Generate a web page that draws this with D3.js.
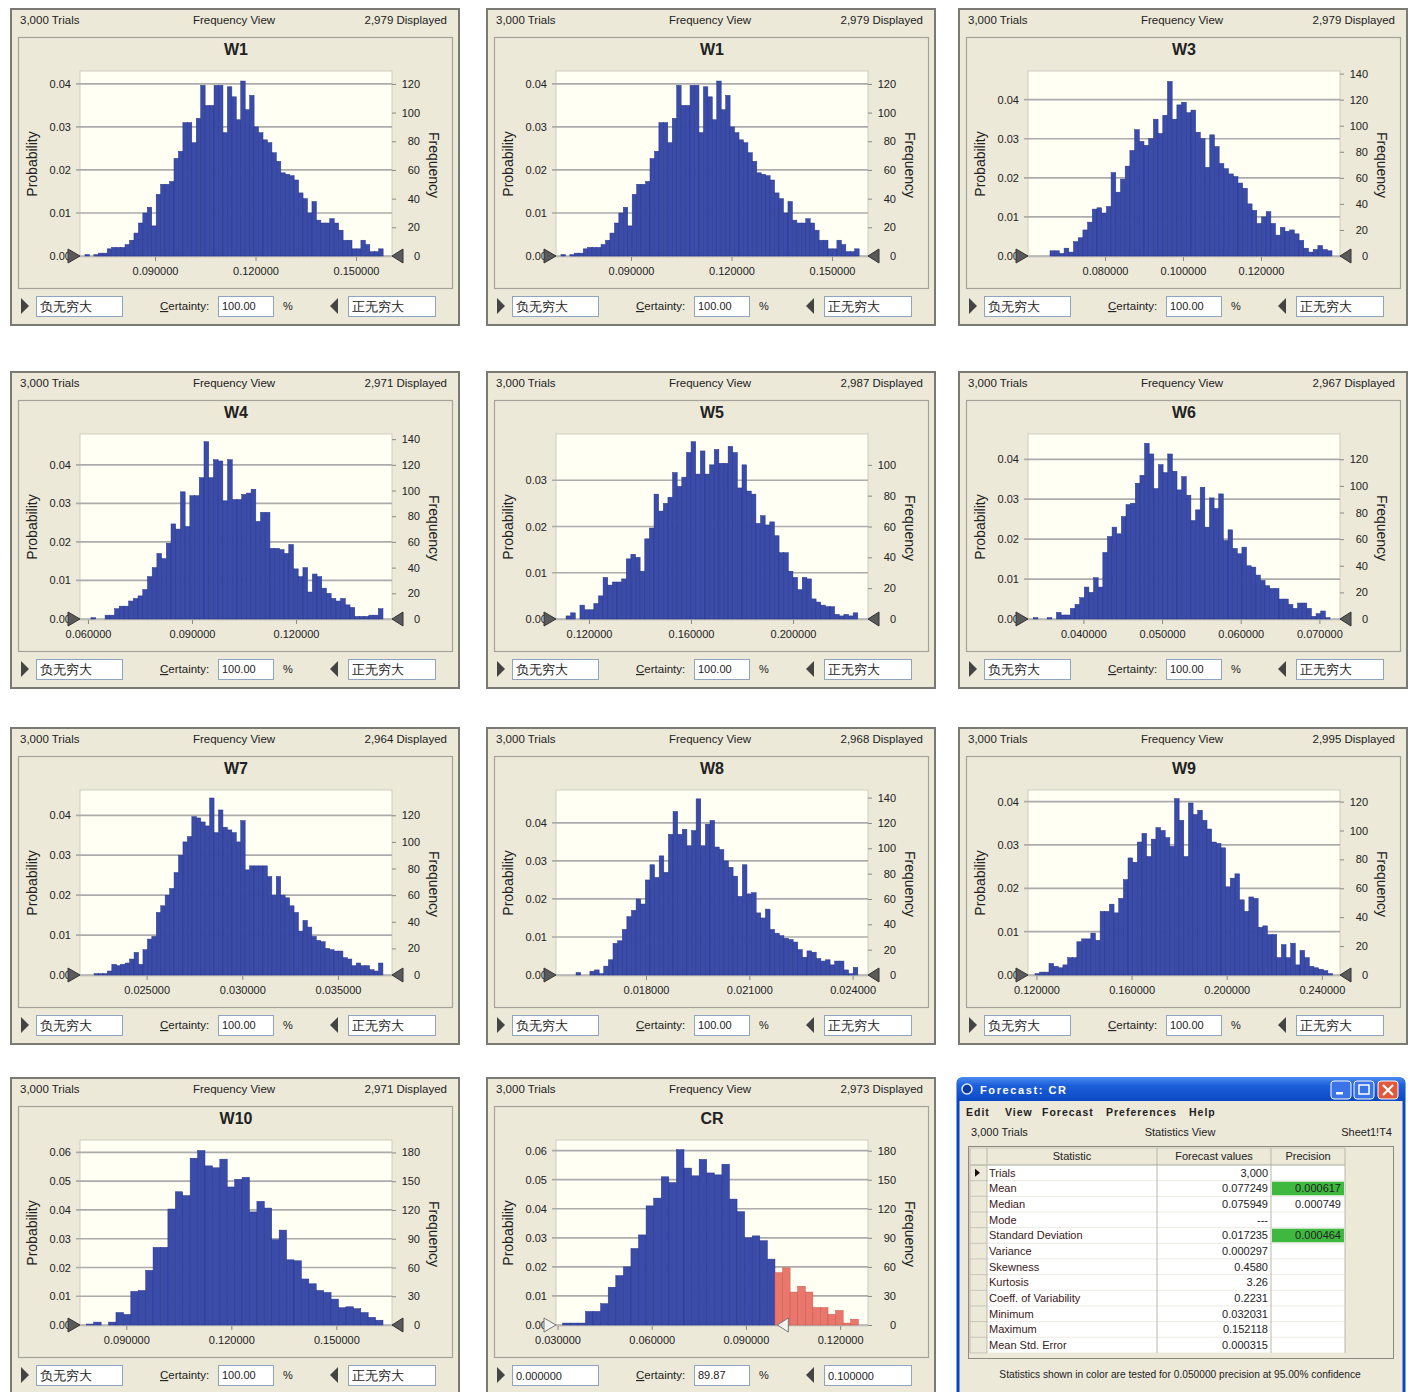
<!DOCTYPE html>
<html><head><meta charset="utf-8">
<script src="https://cdn.jsdelivr.net/npm/d3@7"></script>
<style>
body{margin:0;background:#fff;}
svg text{font-family:"Liberation Sans",Arial,sans-serif;fill:#222;}
</style></head><body>
<svg id="c" width="1415" height="1392"></svg>
<script>
// ---------------- DATA ----------------
const titles = ["W1","W1","W3","W4","W5","W6","W7","W8","W9","W10","CR"];
const trialsText = "3,000 Trials";
const viewText = "Frequency View";
const displayed = ["2,979","2,979","2,979","2,971","2,987","2,967","2,964","2,968","2,995","2,971","2,973"];

const w1Freq = [1,0,1,2,2,5,6,6,6,8,11,16,23,30,34,21,43,50,50,52,68,73,93,93,79,96,119,105,105,119,119,86,118,111,95,122,102,112,90,86,81,79,72,66,58,57,56,53,44,40,30,38,25,23,23,26,23,18,11,11,5,5,11,8,3,3,5];
const w3Freq = [4,4,2,6,3,11,14,20,26,36,37,33,38,64,49,59,69,81,97,88,85,90,105,94,108,134,105,116,118,110,112,95,90,68,93,84,71,67,63,61,56,52,40,35,25,30,34,25,16,22,19,20,17,12,6,3,5,8,5,4];
const w4Freq = [0,1,0,0,3,3,8,10,10,14,16,18,23,33,40,51,47,59,74,70,99,72,96,96,110,138,110,124,123,92,124,93,93,97,98,101,76,83,83,55,55,54,51,58,39,33,40,21,35,33,24,20,16,14,16,11,9,2,2,2,3,3,8];
const w5Freq = [2,4,0,9,6,6,10,15,27,22,24,24,26,39,42,40,31,52,59,81,70,75,79,95,86,92,108,115,94,109,94,100,110,101,101,112,108,85,100,83,81,62,67,61,63,54,43,43,31,27,19,27,26,13,11,9,8,8,3,2,3,2,4];
const w6Freq = [1,0,0,1,0,5,3,3,8,11,16,24,20,31,24,50,62,69,64,77,86,87,102,108,132,124,98,116,110,124,111,97,107,93,74,82,99,69,91,83,94,59,67,53,49,54,40,39,33,29,25,23,23,15,15,11,8,12,12,8,2,4,6,1];
const w7Freq = [0,1,1,1,3,8,7,8,9,12,17,8,19,27,29,47,52,60,65,77,90,100,104,119,118,115,112,133,107,124,111,109,107,100,116,79,82,82,82,82,74,60,74,60,58,52,47,33,41,36,29,26,25,20,19,18,18,13,12,7,9,7,7,4,3,9];
const w8Freq = [2,0,0,3,4,1,7,12,25,27,36,46,51,60,56,75,87,77,94,81,111,129,111,115,102,114,139,102,119,122,101,99,90,85,78,62,87,64,65,49,45,52,36,33,31,29,28,26,20,14,19,18,13,11,12,8,11,11,4,1,6];
const w9Freq = [1,2,2,8,6,5,7,12,12,23,25,25,29,24,44,44,49,43,53,66,81,78,92,98,82,94,102,100,95,89,122,107,82,119,111,114,107,101,92,91,88,61,67,70,52,44,54,53,33,34,28,28,12,21,12,22,7,17,12,6,5,4,3,1];
const w10Freq = [1,3,0,3,13,11,35,36,57,81,81,121,139,135,174,182,166,164,173,144,152,154,118,129,122,89,99,68,67,48,43,36,34,27,18,19,17,13,8,5];
const crFreq = [2,2,2,14,14,22,39,51,60,79,93,123,131,153,147,181,162,154,171,157,155,166,130,117,90,92,87,68,54,59,34,40,34,18,18,11,15,2,6];
const freqSeries = [w1Freq,w1Freq,w3Freq,w4Freq,w5Freq,w6Freq,w7Freq,w8Freq,w9Freq,w10Freq,crFreq];

// value range covered by the bins (first bin start, last bin end)
const binRanges = [[0.0691,0.1581],[0.0691,0.1581],[0.0659,0.1382],[0.0595,0.1451],[0.1110,0.2254],[0.03363,0.07135],[0.02202,0.03735],[0.01597,0.02415],[0.1194,0.2445],[0.07857,0.16334],[0.03166,0.1258]];
// x axis data range
const xDomains = [[0.06761,0.16074],[0.06761,0.16074],[0.06026,0.14026],[0.0577,0.1477],[0.10706,0.22941],[0.03296,0.07262],[0.021517,0.037824],[0.015388,0.024446],[0.11644,0.24764],[0.07677,0.16591],[0.02952,0.12888]];
const xTicks = [[0.09,0.12,0.15],[0.09,0.12,0.15],[0.08,0.10,0.12],[0.06,0.09,0.12],[0.12,0.16,0.20],[0.04,0.05,0.06,0.07],[0.025,0.030,0.035],[0.018,0.021,0.024],[0.12,0.16,0.20,0.24],[0.09,0.12,0.15],[0.03,0.06,0.09,0.12]];
const freqTops = [129,129,142,144,120,139,139,146,128,193,191];
const freqTicks = [
  [0,20,40,60,80,100,120],[0,20,40,60,80,100,120],[0,20,40,60,80,100,120,140],[0,20,40,60,80,100,120,140],
  [0,20,40,60,80,100],[0,20,40,60,80,100,120],[0,20,40,60,80,100,120],[0,20,40,60,80,100,120,140],
  [0,20,40,60,80,100,120],[0,30,60,90,120,150,180],[0,30,60,90,120,150,180]];
const probTicks = [
  [0,0.01,0.02,0.03,0.04],[0,0.01,0.02,0.03,0.04],[0,0.01,0.02,0.03,0.04],[0,0.01,0.02,0.03,0.04],
  [0,0.01,0.02,0.03],[0,0.01,0.02,0.03,0.04],[0,0.01,0.02,0.03,0.04],[0,0.01,0.02,0.03,0.04],
  [0,0.01,0.02,0.03,0.04],[0,0.01,0.02,0.03,0.04,0.05,0.06],[0,0.01,0.02,0.03,0.04,0.05,0.06]];
const trialsTotal = 3000;
const lowerText = ["负无穷大","负无穷大","负无穷大","负无穷大","负无穷大","负无穷大","负无穷大","负无穷大","负无穷大","负无穷大","0.000000"];
const upperText = ["正无穷大","正无穷大","正无穷大","正无穷大","正无穷大","正无穷大","正无穷大","正无穷大","正无穷大","正无穷大","0.100000"];
const certaintyText = ["100.00","100.00","100.00","100.00","100.00","100.00","100.00","100.00","100.00","100.00","89.87"];
const upperBoundValue = [null,null,null,null,null,null,null,null,null,null,0.1];

const statNames = ["Trials","Mean","Median","Mode","Standard Deviation","Variance","Skewness","Kurtosis","Coeff. of Variability","Minimum","Maximum","Mean Std. Error"];
const statValues = ["3,000","0.077249","0.075949","---","0.017235","0.000297","0.4580","3.26","0.2231","0.032031","0.152118","0.000315"];
const statPrecision = ["","0.000617","0.000749","","0.000464","","","","","","",""];
const statTested = [false,true,false,false,true,false,false,false,false,false,false,false];
const menuItems = ["Edit","View","Forecast","Preferences","Help"];

// ---------------- LAYOUT ----------------
const colX = [10,486,958], rowY = [8,371,727,1077];
const BG = "#ECE9D8", BAR = "#3A4BA8", BARS = "#27358C", RED = "#E9776C", REDS = "#C5574E";
const CJK = "'Noto Sans CJK SC','Noto Sans CJK JP',sans-serif";
const svg = d3.select("#c");

freqSeries.forEach((counts, i) => {
  const g = svg.append("g").attr("transform", `translate(${colX[i%3]},${rowY[Math.floor(i/3)]})`);
  g.append("rect").attr("x",1).attr("y",1).attr("width",448).attr("height",316)
    .attr("fill",BG).attr("stroke","#7a7a74").attr("stroke-width",2);
  g.append("text").attr("x",10).attr("y",16).attr("font-size",11.5).text(trialsText);
  g.append("text").attr("x",224).attr("y",16).attr("font-size",11.5).attr("text-anchor","middle").text(viewText);
  g.append("text").attr("x",437).attr("y",16).attr("font-size",11.5).attr("text-anchor","end").text(displayed[i] + " Displayed");
  g.append("rect").attr("x",8.5).attr("y",29.5).attr("width",434).attr("height",251)
    .attr("fill",BG).attr("stroke","#a6a49a").attr("stroke-width",1.2);
  g.append("text").attr("x",226).attr("y",47).attr("font-size",16).attr("font-weight","bold")
    .attr("text-anchor","middle").text(titles[i]);

  const x = d3.scaleLinear().domain(xDomains[i]).range([70,382]);
  const yF = d3.scaleLinear().domain([0,freqTops[i]]).range([248,63]);
  const yP = d3.scaleLinear().domain([0,freqTops[i]/trialsTotal]).range([248,63]);

  g.append("rect").attr("x",70).attr("y",63).attr("width",312).attr("height",186)
    .attr("fill","#FFFFF4").attr("stroke","#cfcdc2");
  g.selectAll("line.grid").data(probTicks[i]).join("line").attr("class","grid")
    .attr("x1",66).attr("x2",382).attr("y1",d=>yP(d)).attr("y2",d=>yP(d))
    .attr("stroke","#ababab").attr("stroke-width",1.7);

  const [b0,b1] = binRanges[i];
  const bw = (b1-b0)/counts.length;
  const ub = upperBoundValue[i];
  g.selectAll("rect.bar").data(counts).join("rect").attr("class","bar")
    .attr("x",(d,k)=>x(b0+k*bw)).attr("width",(d,k)=>x(b0+(k+1)*bw)-x(b0+k*bw))
    .attr("y",d=>yF(d)).attr("height",d=>yF(0)-yF(d))
    .attr("fill",(d,k)=> ub!==null && b0+(k+0.5)*bw>=ub ? RED : BAR)
    .attr("stroke",(d,k)=> ub!==null && b0+(k+0.5)*bw>=ub ? REDS : BARS)
    .attr("stroke-width",0.5);

  // left axis (probability)
  const la = g.append("g").attr("transform","translate(70,0)")
    .call(d3.axisLeft(yP).tickValues(probTicks[i]).tickFormat(d3.format(".2f")).tickSize(0).tickPadding(9));
  la.select(".domain").remove();
  la.selectAll("text").attr("font-size",11).attr("font-family","'Liberation Sans',Arial,sans-serif").attr("fill","#222");
  // right axis (frequency)
  const ra = g.append("g").attr("transform","translate(382,0)")
    .call(d3.axisRight(yF).tickValues(freqTicks[i]).tickSize(4));
  ra.select(".domain").remove();
  ra.selectAll("line").attr("stroke","#888");
  ra.selectAll("text").attr("x",28).attr("text-anchor","end").attr("font-size",11)
    .attr("font-family","'Liberation Sans',Arial,sans-serif").attr("fill","#222");
  // bottom axis
  const ba = g.append("g").attr("transform","translate(0,249)")
    .call(d3.axisBottom(x).tickValues(xTicks[i]).tickFormat(d3.format(".6f")).tickSize(4).tickPadding(6));
  ba.select(".domain").remove();
  ba.selectAll("line").attr("stroke","#888");
  ba.selectAll("text").attr("font-size",11).attr("font-family","'Liberation Sans',Arial,sans-serif").attr("fill","#222");

  g.append("text").attr("transform","translate(27,156) rotate(-90)").attr("text-anchor","middle")
    .attr("font-size",14).text("Probability");
  g.append("text").attr("transform","translate(419,157) rotate(90)").attr("text-anchor","middle")
    .attr("font-size",14).text("Frequency");

  // certainty markers
  const light = ub !== null;
  const mFill = light ? "#f4f4f0" : "#5a5a5a", mStroke = light ? "#777" : "#333";
  g.append("path").attr("d","M58,241 L70,248 L58,255 Z").attr("fill",mFill).attr("stroke",mStroke);
  const rx = light ? x(ub) : 382;
  g.append("path").attr("d",`M${rx},248 L${rx+11},241 L${rx+11},255 Z`).attr("fill",mFill).attr("stroke",mStroke);

  // bottom controls
  g.append("path").attr("d","M11,290 L19,298 L11,306 Z").attr("fill","#444");
  g.append("rect").attr("x",26.5).attr("y",288.5).attr("width",86).attr("height",20).attr("fill","#fff").attr("stroke","#8ea4c0");
  g.append("text").attr("x",30).attr("y",303).attr("font-size",lowerText[i].length===4?12.5:11)
    .attr("font-family",lowerText[i].length===4?CJK:null).text(lowerText[i]);
  const ct = g.append("text").attr("x",150).attr("y",302).attr("font-size",11.5);
  ct.append("tspan").attr("text-decoration","underline").text("C");
  ct.append("tspan").text("ertainty:");
  g.append("rect").attr("x",208.5).attr("y",288.5).attr("width",55).attr("height",20).attr("fill","#fff").attr("stroke","#8ea4c0");
  g.append("text").attr("x",212).attr("y",302).attr("font-size",11).text(certaintyText[i]);
  g.append("text").attr("x",273).attr("y",302).attr("font-size",11).text("%");
  g.append("path").attr("d","M328,290 L320,298 L328,306 Z").attr("fill","#444");
  g.append("rect").attr("x",338.5).attr("y",288.5).attr("width",87).attr("height",20).attr("fill","#fff").attr("stroke","#8ea4c0");
  g.append("text").attr("x",342).attr("y",303).attr("font-size",upperText[i].length===4?12.5:11)
    .attr("font-family",upperText[i].length===4?CJK:null).text(upperText[i]);
});

// ---------------- STATISTICS WINDOW ----------------
const defs = svg.append("defs");
const tg = defs.append("linearGradient").attr("id","tb").attr("x1",0).attr("y1",0).attr("x2",0).attr("y2",1);
tg.append("stop").attr("offset","0%").attr("stop-color","#4A8CF0");
tg.append("stop").attr("offset","35%").attr("stop-color","#1E60DA");
tg.append("stop").attr("offset","100%").attr("stop-color","#0A48C4");
const w = svg.append("g");
w.append("rect").attr("x",958).attr("y",1079).attr("width",446).attr("height",330).attr("fill",BG)
  .attr("stroke","#0C45C6").attr("stroke-width",3).attr("rx",4);
w.append("path").attr("d","M957,1101 L957,1083 Q957,1077 963,1077 L1399,1077 Q1405,1077 1405,1083 L1405,1101 Z").attr("fill","url(#tb)");
w.append("circle").attr("cx",967).attr("cy",1089).attr("r",5).attr("fill","#0a3a9a").attr("stroke","#dfe8ff").attr("stroke-width",1.5);
w.append("text").attr("x",980).attr("y",1094).attr("font-size",11).attr("font-weight","bold")
  .attr("font-family","'DejaVu Sans Mono',monospace").attr("letter-spacing",1.6).style("fill","#fff").text("Forecast: CR");
[[1331,"#3b74e6"],[1354,"#3b74e6"],[1378,"#E2583A"]].forEach(([bx,c],k)=>{
  w.append("rect").attr("x",bx).attr("y",1081).attr("width",20).attr("height",18).attr("rx",3).attr("fill",c).attr("stroke","#fff").attr("stroke-width",1);
});
w.append("rect").attr("x",1336).attr("y",1092).attr("width",7).attr("height",2.5).attr("fill","#fff");
w.append("rect").attr("x",1359).attr("y",1085).attr("width",10).attr("height",9).attr("fill","none").attr("stroke","#fff").attr("stroke-width",1.5);
w.append("path").attr("d","M1383,1085 L1393,1095 M1393,1085 L1383,1095").attr("stroke","#fff").attr("stroke-width",2.2);

const menuX = [966,1005,1042,1106,1189];
menuItems.forEach((m,k)=>{
  w.append("text").attr("x",menuX[k]).attr("y",1116).attr("font-size",10.5).attr("font-weight","bold")
    .attr("font-family","'Liberation Serif',serif").attr("letter-spacing",1).text(m);
});
w.append("text").attr("x",971).attr("y",1136).attr("font-size",11).text("3,000 Trials");
w.append("text").attr("x",1180).attr("y",1136).attr("font-size",11).attr("text-anchor","middle").text("Statistics View");
w.append("text").attr("x",1392).attr("y",1136).attr("font-size",11).attr("text-anchor","end").text("Sheet1!T4");

// table
w.append("rect").attr("x",968.5).attr("y",1146.5).attr("width",425).attr("height",212).attr("fill",BG).attr("stroke","#8a8a80");
const colEdges = [970,987,1157,1271,1345];
const rowH = 15.66, row0 = 1165;
const yRow = d3.scaleLinear().domain([0,statNames.length]).range([row0,row0+rowH*statNames.length]);
w.append("rect").attr("x",987).attr("y",row0).attr("width",358).attr("height",yRow(statNames.length)-row0).attr("fill","#fff");
statTested.forEach((t,k)=>{ if(t) w.append("rect").attr("x",1272).attr("y",yRow(k)+1).attr("width",72).attr("height",rowH-2).attr("fill","#3FB83F"); });
d3.range(statNames.length+1).forEach(k=>{
  w.append("line").attr("x1",970).attr("x2",1345).attr("y1",yRow(k)).attr("y2",yRow(k)).attr("stroke",k===0?"#a9a79c":"#ecebe4");
  w.append("line").attr("x1",970).attr("x2",987).attr("y1",yRow(k)).attr("y2",yRow(k)).attr("stroke","#c9c6b6");
});
w.append("line").attr("x1",970).attr("x2",1345).attr("y1",1148).attr("y2",1148).attr("stroke","#c9c6b6");
colEdges.forEach(cx=>{
  w.append("line").attr("x1",cx).attr("x2",cx).attr("y1",1148).attr("y2",yRow(statNames.length)).attr("stroke","#b9b7ac");
});
w.append("text").attr("x",1072).attr("y",1160).attr("font-size",11).attr("text-anchor","middle").text("Statistic");
w.append("text").attr("x",1214).attr("y",1160).attr("font-size",11).attr("text-anchor","middle").text("Forecast values");
w.append("text").attr("x",1308).attr("y",1160).attr("font-size",11).attr("text-anchor","middle").text("Precision");
w.append("path").attr("d",`M975,${yRow(0.5)-4} L980,${yRow(0.5)} L975,${yRow(0.5)+4} Z`).attr("fill","#111");
statNames.forEach((s,k)=>{
  const cy = yRow(k+0.5)+4;
  w.append("text").attr("x",989).attr("y",cy).attr("font-size",11).style("fill","#3a2020").text(s);
  w.append("text").attr("x",1268).attr("y",cy).attr("font-size",11).attr("text-anchor","end").text(statValues[k]);
  if(statPrecision[k]) w.append("text").attr("x",1341).attr("y",cy).attr("font-size",11).attr("text-anchor","end").text(statPrecision[k]);
});
w.append("text").attr("x",1180).attr("y",1378).attr("font-size",10.2).attr("text-anchor","middle")
  .text("Statistics shown in color are tested for 0.050000 precision at 95.00% confidence");
</script>
</body></html>
